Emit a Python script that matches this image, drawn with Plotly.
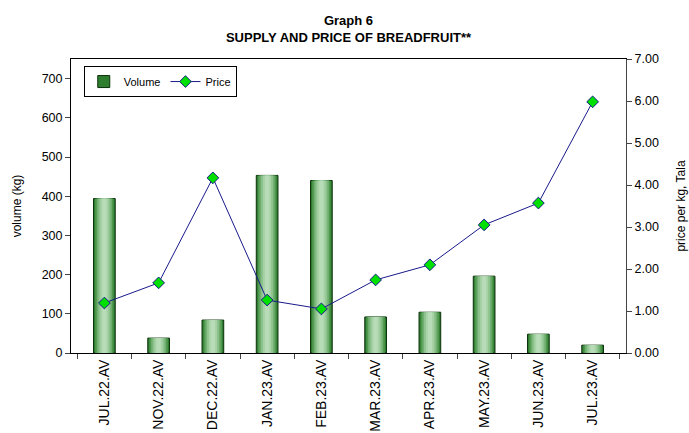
import plotly.graph_objects as go

months = [
    "JUL.22.AV", "NOV.22.AV", "DEC.22.AV", "JAN.23.AV", "FEB.23.AV",
    "MAR.23.AV", "APR.23.AV", "MAY.23.AV", "JUN.23.AV", "JUL.23.AV",
]
volume = [394, 38, 84, 453, 440, 92, 104, 196, 48, 20]
price = [1.19, 1.67, 4.17, 1.26, 1.05, 1.74, 2.10, 3.05, 3.57, 5.98]

# fake the horizontal gradient of the bars by stacking narrower, lighter bars
shades = ["#2f7d2f", "#4f984f", "#6fae6f", "#8ec28e", "#a6d2a6", "#b8dcb8"]
widths = [0.40, 0.34, 0.28, 0.22, 0.15, 0.08]

fig = go.Figure()
for i, (c, w) in enumerate(zip(shades, widths)):
    fig.add_trace(
        go.Bar(
            name="Volume",
            x=months,
            y=volume,
            width=w,
            marker=dict(
                color=c,
                line=dict(color="#0b300b" if i == 0 else c, width=1 if i == 0 else 0),
            ),
            showlegend=(i == 0),
            legendgroup="vol",
            yaxis="y",
        )
    )

fig.add_trace(
    go.Scatter(
        name="Price",
        x=months,
        y=price,
        mode="lines+markers",
        line=dict(color="#1a1a8c", width=1),
        marker=dict(symbol="diamond", size=9, color="#00e000",
                    line=dict(color="#1a1a8c", width=1)),
        yaxis="y2",
    )
)

fig.update_layout(
    width=689,
    height=433,
    barmode="overlay",
    plot_bgcolor="white",
    paper_bgcolor="white",
    font=dict(family="Liberation Sans, Arial, sans-serif", size=12, color="black"),
    margin=dict(l=71, r=63, t=59, b=80),
    title=dict(
        text="<b>Graph 6<br>SUPPLY AND PRICE OF BREADFRUIT**</b>",
        x=0.5,
        xref="paper",
        xanchor="center",
        y=0.943,
        yanchor="top",
        font=dict(size=13),
    ),
    legend=dict(
        orientation="h",
        x=0.023,
        y=0.976,
        xanchor="left",
        yanchor="top",
        bordercolor="black",
        borderwidth=1,
        bgcolor="white",
        font=dict(size=11),
        itemwidth=30,
        tracegroupgap=0,
    ),
    showlegend=True,
)

fig.update_xaxes(
    tickangle=-90,
    tickson="boundaries",
    ticks="outside",
    ticklen=5,
    showline=True,
    linecolor="black",
    mirror=True,
    showgrid=False,
    automargin=False,
    tickfont=dict(size=14),
)

fig.update_layout(
    yaxis=dict(
        title=dict(text="volume (kg)", standoff=17, font=dict(size=12)),
        range=[0, 750],
        tickvals=[0, 100, 200, 300, 400, 500, 600, 700],
        ticks="outside",
        ticklen=5,
        showline=True,
        linecolor="black",
        showgrid=False,
        zeroline=False,
        automargin=False,
        tickfont=dict(size=12.5),
    ),
    yaxis2=dict(
        title=dict(text="price per kg, Tala", standoff=18, font=dict(size=12)),
        overlaying="y",
        side="right",
        range=[0, 7],
        dtick=1,
        tickformat=".2f",
        ticks="outside",
        ticklen=5,
        showline=True,
        linecolor="#444444",
        showgrid=False,
        zeroline=False,
        automargin=False,
        tickfont=dict(size=12.5),
    ),
)

fig.write_html(
    "out.html",
    config={"displayModeBar": False},
    post_script="document.body.style.margin='0';",
)
